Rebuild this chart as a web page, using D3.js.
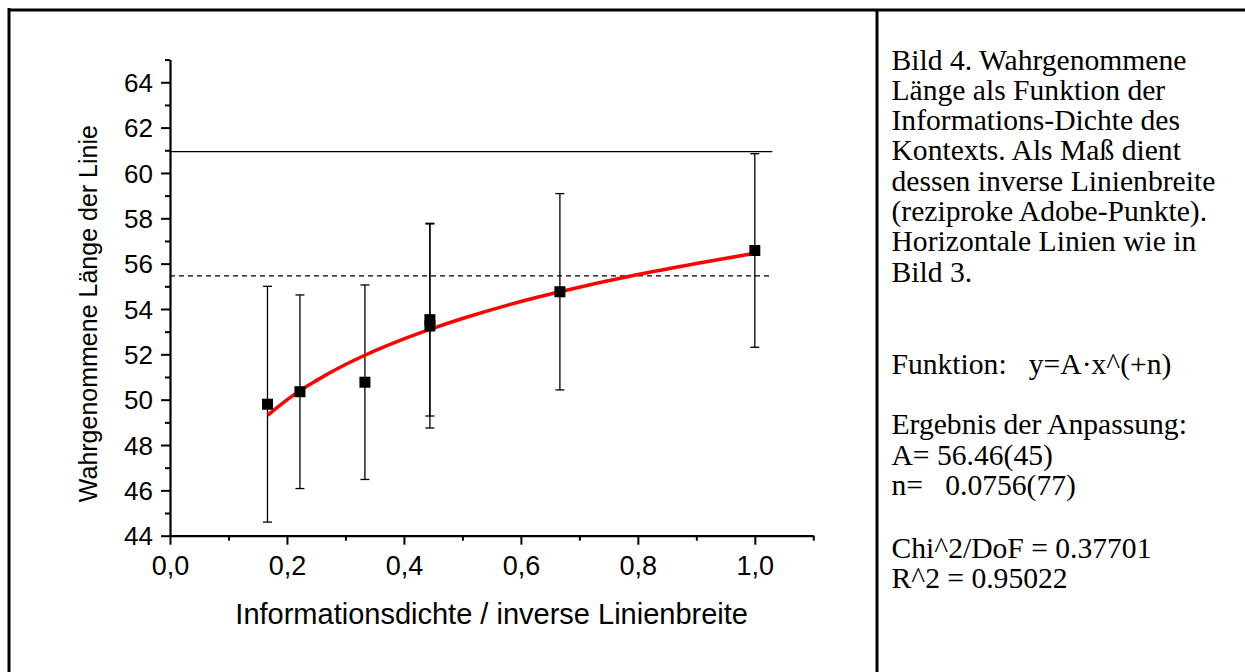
<!DOCTYPE html>
<html>
<head>
<meta charset="utf-8">
<script src="https://cdn.jsdelivr.net/npm/d3@7"></script>
<style>
  body { margin: 0; background: #fff; }
  svg { display: block; }
</style>
</head>
<body>
<div id="chart"></div>
<script>
// measured points (x = inverse line width, y = perceived length, err = +/-)
const xVals = [0.1667, 0.2222, 0.3333, 0.4444, 0.4444, 0.6667, 1.0];
const yVals = [49.8, 50.35, 50.77, 53.53, 53.25, 54.76, 56.58];
const yErr = [5.2, 4.27, 4.29, 4.25, 4.5, 4.33, 4.27];

// red fit curve
const fitX = [0.1667, 0.2, 0.2222, 0.25, 0.3, 0.3333, 0.4, 0.4444, 0.5, 0.6, 0.6667, 0.8, 0.9, 1.0];
const fitY = [49.31, 49.99, 50.4, 50.84, 51.55, 51.96, 52.68, 53.1, 53.58, 54.33, 54.76, 55.52, 56.01, 56.46];

// horizontal reference lines
const refSolid = 60.94;
const refDashed = 55.46;
const refEnd = 1.03;

const xTicks = [0, 0.2, 0.4, 0.6, 0.8, 1.0];
const xTickLabels = ["0,0", "0,2", "0,4", "0,6", "0,8", "1,0"];
const xMinor = [0.1, 0.3, 0.5, 0.7, 0.9, 1.1];
const yTicks = [44, 46, 48, 50, 52, 54, 56, 58, 60, 62, 64];
const yMinor = [45, 47, 49, 51, 53, 55, 57, 59, 61, 63, 65];

const xTitle = "Informationsdichte / inverse Linienbreite";
const yTitle = "Wahrgenommene Länge der Linie";

// caption, one array per paragraph
const captionParas = [
  [
    "Bild 4. Wahrgenommene",
    "Länge als Funktion der",
    "Informations-Dichte des",
    "Kontexts. Als Maß dient",
    "dessen inverse Linienbreite",
    "(reziproke Adobe-Punkte).",
    "Horizontale Linien wie in",
    "Bild 3."
  ],
  ["Funktion:   y=A·x^(+n)"],
  ["Ergebnis der Anpassung:", "A= 56.46(45)", "n=   0.0756(77)"],
  ["Chi^2/DoF = 0.37701", "R^2 = 0.95022"]
];

const width = 1245, height = 672;
const sans = "'Liberation Sans', Arial, sans-serif";
const serif = "'Liberation Serif', 'Times New Roman', serif";

const svg = d3.select("#chart").append("svg")
  .attr("width", width)
  .attr("height", height)
  .attr("viewBox", [0, 0, width, height]);

// page frame: left border, top border, divider
svg.append("line").attr("x1", 9).attr("x2", 9).attr("y1", 8).attr("y2", height)
  .attr("stroke", "#000").attr("stroke-width", 3);
svg.append("line").attr("x1", 8).attr("x2", width).attr("y1", 10).attr("y2", 10)
  .attr("stroke", "#000").attr("stroke-width", 3);
svg.append("line").attr("x1", 877).attr("x2", 877).attr("y1", 10).attr("y2", height)
  .attr("stroke", "#000").attr("stroke-width", 3);

const x = d3.scaleLinear().domain([0, 1.1]).range([170, 813.3]);
const y = d3.scaleLinear().domain([44, 65]).range([535.7, 59.6]);

// minor ticks
svg.append("g")
  .attr("transform", `translate(0,${y(44)})`)
  .call(d3.axisBottom(x).tickValues(xMinor).tickSize(5).tickFormat(""))
  .call(g => g.select(".domain").remove())
  .call(g => g.selectAll("line").attr("stroke-width", 2));
svg.append("g")
  .attr("transform", `translate(${x(0)},0)`)
  .call(d3.axisLeft(y).tickValues(yMinor).tickSize(5).tickFormat(""))
  .call(g => g.select(".domain").remove())
  .call(g => g.selectAll("line").attr("stroke-width", 2));

// x axis
const xAxisG = svg.append("g")
  .attr("transform", `translate(0,${y(44)})`)
  .call(d3.axisBottom(x).tickValues(xTicks).tickSize(9).tickSizeOuter(0)
    .tickFormat((d, i) => xTickLabels[i]));
xAxisG.select(".domain").attr("stroke-width", 2.2);
xAxisG.selectAll(".tick line").attr("stroke-width", 2);
xAxisG.selectAll(".tick text")
  .attr("font-family", sans).attr("font-size", 27).attr("fill", "#000")
  .attr("y", 39).attr("dy", 0);

// y axis
const yAxisG = svg.append("g")
  .attr("transform", `translate(${x(0)},0)`)
  .call(d3.axisLeft(y).tickValues(yTicks).tickSize(9).tickSizeOuter(0));
yAxisG.select(".domain").attr("stroke-width", 2.2);
yAxisG.selectAll(".tick line").attr("stroke-width", 2);
yAxisG.selectAll(".tick text")
  .attr("font-family", sans).attr("font-size", 26).attr("fill", "#000")
  .attr("x", -17).attr("dy", "0.35em");

// axis titles
svg.append("text")
  .attr("x", (x(0) + x(1.1)) / 2).attr("y", 624)
  .attr("text-anchor", "middle")
  .attr("font-family", sans).attr("font-size", 29)
  .text(xTitle);
svg.append("text")
  .attr("transform", `translate(96.7,${(y(44) + y(65)) / 2 + 16}) rotate(-90)`)
  .attr("text-anchor", "middle")
  .attr("font-family", sans).attr("font-size", 25)
  .text(yTitle);

// reference lines
svg.append("line")
  .attr("x1", x(0)).attr("x2", x(refEnd))
  .attr("y1", y(refSolid)).attr("y2", y(refSolid))
  .attr("stroke", "#000").attr("stroke-width", 1.4);
svg.append("line")
  .attr("x1", x(0)).attr("x2", x(refEnd))
  .attr("y1", y(refDashed)).attr("y2", y(refDashed))
  .attr("stroke", "#000").attr("stroke-width", 1.4)
  .attr("stroke-dasharray", "5,4");

// error bars
const pts = xVals.map((v, i) => ({ x: v, y: yVals[i], e: yErr[i] }));
const bars = svg.append("g").attr("stroke", "#000").attr("stroke-width", 1.3);
bars.selectAll(".bar").data(pts).join("line")
  .attr("x1", d => x(d.x)).attr("x2", d => x(d.x))
  .attr("y1", d => y(d.y - d.e)).attr("y2", d => y(d.y + d.e));
bars.selectAll(".capTop").data(pts).join("line")
  .attr("x1", d => x(d.x) - 4.5).attr("x2", d => x(d.x) + 4.5)
  .attr("y1", d => y(d.y + d.e)).attr("y2", d => y(d.y + d.e));
bars.selectAll(".capBot").data(pts).join("line")
  .attr("x1", d => x(d.x) - 4.5).attr("x2", d => x(d.x) + 4.5)
  .attr("y1", d => y(d.y - d.e)).attr("y2", d => y(d.y - d.e));

// fit curve
const fitLine = d3.line()
  .x(d => x(d[0]))
  .y(d => y(d[1]))
  .curve(d3.curveMonotoneX);
svg.append("path")
  .datum(fitX.map((v, i) => [v, fitY[i]]))
  .attr("fill", "none")
  .attr("stroke", "#ff0000")
  .attr("stroke-width", 3.5)
  .attr("d", fitLine);

// squares
svg.selectAll(".pt").data(pts).join("rect")
  .attr("x", d => x(d.x) - 5.5)
  .attr("y", d => y(d.y) - 5.5)
  .attr("width", 11).attr("height", 11)
  .attr("fill", "#000");

// caption text on the right
const lineH = 30.3;
const paraGap = [0, 62.5, 29.7, 32.7]; // extra space before each paragraph
const caption = svg.append("text")
  .attr("font-family", serif).attr("font-size", 29.6).attr("fill", "#000")
  .style("white-space", "pre");
let cy = 69.5 - lineH;
captionParas.forEach((para, p) => {
  cy += paraGap[p];
  para.forEach(line => {
    cy += lineH;
    caption.append("tspan").attr("x", 891.5).attr("y", cy).text(line);
  });
});
</script>
</body>
</html>
